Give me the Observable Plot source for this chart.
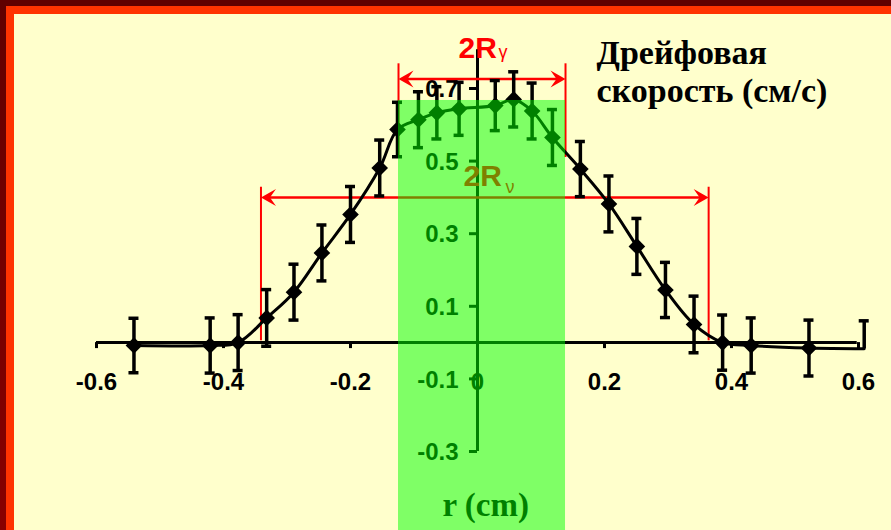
<!DOCTYPE html>
<html><head><meta charset="utf-8">
<script src="https://cdn.jsdelivr.net/npm/d3@7"></script>
<script src="https://cdn.jsdelivr.net/npm/@observablehq/plot@0.6"></script>
<style>
body{margin:0;background:#FFFFCC;}
#wrap{position:relative;width:891px;height:530px;overflow:hidden;background:#FFFFCC;}
#wrap svg{position:absolute;left:0;top:0;}
.b{position:absolute;}
</style></head><body><div id="wrap"></div>
<script>
// radius r (cm) of each measurement
const rValues = [-0.541, -0.421, -0.377, -0.332, -0.289, -0.245, -0.200, -0.154, -0.126, -0.093, -0.064, -0.029,
                 0.028, 0.057, 0.086, 0.118, 0.162, 0.207, 0.251, 0.296, 0.341, 0.386, 0.431, 0.522];
// drift velocity (cm/s)
const driftValues = [-0.008, -0.008, 0.000, 0.068, 0.139, 0.247, 0.353, 0.481, 0.587, 0.614, 0.633, 0.644,
                     0.653, 0.670, 0.638, 0.565, 0.478, 0.382, 0.265, 0.145, 0.050, 0.000, -0.008, -0.015];
// error half-widths
const errValues = [0.075, 0.076, 0.077, 0.078, 0.077, 0.077, 0.077, 0.077, 0.075, 0.077, 0.072, 0.073,
                   0.069, 0.076, 0.077, 0.077, 0.076, 0.077, 0.077, 0.076, 0.078, 0.076, 0.076, 0.077];
// curve end (no marker, upper error only)
const tailR = 0.609, tailDrift = -0.017, tailErrUp = 0.077;

const xTicks = [-0.6, -0.4, -0.2, 0, 0.2, 0.4, 0.6];
const xTickLabels = ["-0.6", "-0.4", "-0.2", "0", "0.2", "0.4", "0.6"];
const yTicks = [-0.3, -0.1, 0.1, 0.3, 0.5, 0.7];
const yTickLabels = ["-0.3", "-0.1", "0.1", "0.3", "0.5", "0.7"];

const gammaRange = [-0.1244, 0.1386];   // 2Rγ
const gammaArrowY = 0.726, gammaLineY = [0.51, 0.768];
const nuRange = [-0.341, 0.364];        // 2Rν
const nuArrowY = 0.40, nuLineY = [0.005, 0.428];
const bandTop = 0.667;

const pts = rValues.map((x, i) => ({x, y: driftValues[i], e: errValues[i]}));
const linePts = [...pts, {x: tailR, y: tailDrift}];

const stealth = {draw(ctx) { ctx.moveTo(0, 0); ctx.lineTo(-15, -8.5); ctx.lineTo(-9, 0); ctx.lineTo(-15, 8.5); ctx.closePath(); }};
const sans = "Liberation Sans, Arial, sans-serif";
const serif = "Liberation Serif, Times New Roman, serif";

const arrowHeads = [
  {x: gammaRange[0], y: gammaArrowY, a: 180}, {x: gammaRange[1], y: gammaArrowY, a: 0},
  {x: nuRange[0], y: nuArrowY, a: 180}, {x: nuRange[1], y: nuArrowY, a: 0}
];

const chart = Plot.plot({
  width: 891, height: 530, margin: 0,
  style: {background: "transparent", overflow: "visible"},
  x: {domain: [-0.6, 0.6], range: [96, 858], axis: null},
  y: {domain: [-0.3, 0.8], range: [451, 51.7], axis: null},
  marks: [
    // axes
    Plot.ruleY([0], {x1: () => -0.6, x2: () => 0.598, stroke: "black", strokeWidth: 3}),
    Plot.ruleX(xTicks, {x: d => d, y1: () => 0, y2: () => 0, insetBottom: -6, stroke: "black", strokeWidth: 3}),
    Plot.ruleX([0], {y1: () => -0.3, y2: () => 0.807, stroke: "black", strokeWidth: 3}),
    Plot.ruleY(yTicks, {y: d => d, x1: () => 0, x2: () => 0, insetLeft: -8, stroke: "black", strokeWidth: 3}),
    Plot.text(xTicks, {x: d => d, y: () => 0, text: (d, i) => xTickLabels[i], dy: 39.5,
      fontSize: 24, fontWeight: "bold", fontFamily: sans, fill: "black"}),
    Plot.text(yTicks, {x: () => 0, y: d => d, text: (d, i) => yTickLabels[i], dx: -19, dy: 1, textAnchor: "end",
      fontSize: 24, fontWeight: "bold", fontFamily: sans, fill: "black"}),
    // red range markers
    Plot.ruleX(gammaRange, {x: d => d, y1: () => gammaLineY[0], y2: () => gammaLineY[1], stroke: "red", strokeWidth: 2}),
    Plot.ruleY([gammaArrowY], {x1: () => gammaRange[0] + 0.01, x2: () => gammaRange[1] - 0.01, stroke: "red", strokeWidth: 2.5}),
    Plot.ruleX(nuRange, {x: d => d, y1: () => nuLineY[0], y2: () => nuLineY[1], stroke: "red", strokeWidth: 2}),
    Plot.ruleY([nuArrowY], {x1: () => nuRange[0] + 0.01, x2: () => nuRange[1] - 0.01, stroke: "red", strokeWidth: 2.5}),
    Plot.dot(arrowHeads, {x: "x", y: "y", rotate: "a", symbol: stealth, fill: "red", stroke: "none"}),
    // data
    Plot.line(linePts, {x: "x", y: "y", curve: "catmull-rom", stroke: "black", strokeWidth: 3}),
    Plot.ruleX(pts, {x: "x", y1: d => d.y - d.e, y2: d => d.y + d.e, stroke: "black", strokeWidth: 3.5}),
    Plot.ruleY(pts, {y: d => d.y + d.e, x1: "x", x2: "x", insetLeft: -5, insetRight: -5, stroke: "black", strokeWidth: 3.5}),
    Plot.ruleY(pts, {y: d => d.y - d.e, x1: "x", x2: "x", insetLeft: -5, insetRight: -5, stroke: "black", strokeWidth: 3.5}),
    Plot.ruleX([tailR], {x: d => d, y1: () => tailDrift, y2: () => tailDrift + tailErrUp, stroke: "black", strokeWidth: 3.5}),
    Plot.ruleY([tailR], {y: () => tailDrift + tailErrUp, x1: d => d, x2: d => d, insetLeft: -5, insetRight: -5, stroke: "black", strokeWidth: 3.5}),
    Plot.dot(pts, {x: "x", y: "y", symbol: "diamond2", r: 7.5, fill: "black", stroke: "none"}),
    // labels
    Plot.text(["2R"], {frameAnchor: "top-left", dx: 463, dy: 185, lineAnchor: "bottom", textAnchor: "start", text: d => d,
      fontSize: 30, fontWeight: "bold", fontFamily: sans, fill: "red"}),
    Plot.text(["ν"], {frameAnchor: "top-left", dx: 505, dy: 192, lineAnchor: "bottom", textAnchor: "start", text: d => d,
      fontSize: 18, fontFamily: sans, fill: "red"}),
    Plot.text(["r (cm)"], {frameAnchor: "top-left", dx: 442, dy: 515, lineAnchor: "bottom", textAnchor: "start", text: d => d,
      fontSize: 33, fontWeight: "bold", fontFamily: serif, fill: "black"}),
    // green band
    Plot.rect([0], {x1: () => gammaRange[0], x2: () => gammaRange[1], y1: () => -0.6, y2: () => bandTop, fill: "#00FF00", fillOpacity: 0.5}),
    // top labels
    Plot.text(["2R"], {frameAnchor: "top-left", dx: 458, dy: 57, lineAnchor: "bottom", textAnchor: "start", text: d => d,
      fontSize: 30, fontWeight: "bold", fontFamily: sans, fill: "red"}),
    Plot.text(["γ"], {frameAnchor: "top-left", dx: 498, dy: 57, lineAnchor: "bottom", textAnchor: "start", text: d => d,
      fontSize: 18, fontFamily: sans, fill: "red"}),
    Plot.text(["Дрейфовая\nскорость (см/с)"], {frameAnchor: "top-left", dx: 596, dy: 101.7, lineAnchor: "bottom", textAnchor: "start",
      lineHeight: 1.13, text: d => d, fontSize: 34, fontWeight: "bold", fontFamily: serif, fill: "black"})
  ]
});
const wrap = document.getElementById("wrap");
wrap.appendChild(chart);
const borders = [
  {l: 0, t: 0, w: 891, h: 6, c: "#600000"},
  {l: 0, t: 0, w: 6, h: 530, c: "linear-gradient(#600000, #880000)"},
  {l: 6, t: 6, w: 885, h: 8, c: "#FF3300"},
  {l: 6, t: 6, w: 8, h: 524, c: "#FF3300"}
];
for (const b of borders) {
  const d = document.createElement("div");
  d.className = "b";
  Object.assign(d.style, {left: b.l + "px", top: b.t + "px", width: b.w + "px", height: b.h + "px", background: b.c});
  wrap.appendChild(d);
}
</script></body></html>
